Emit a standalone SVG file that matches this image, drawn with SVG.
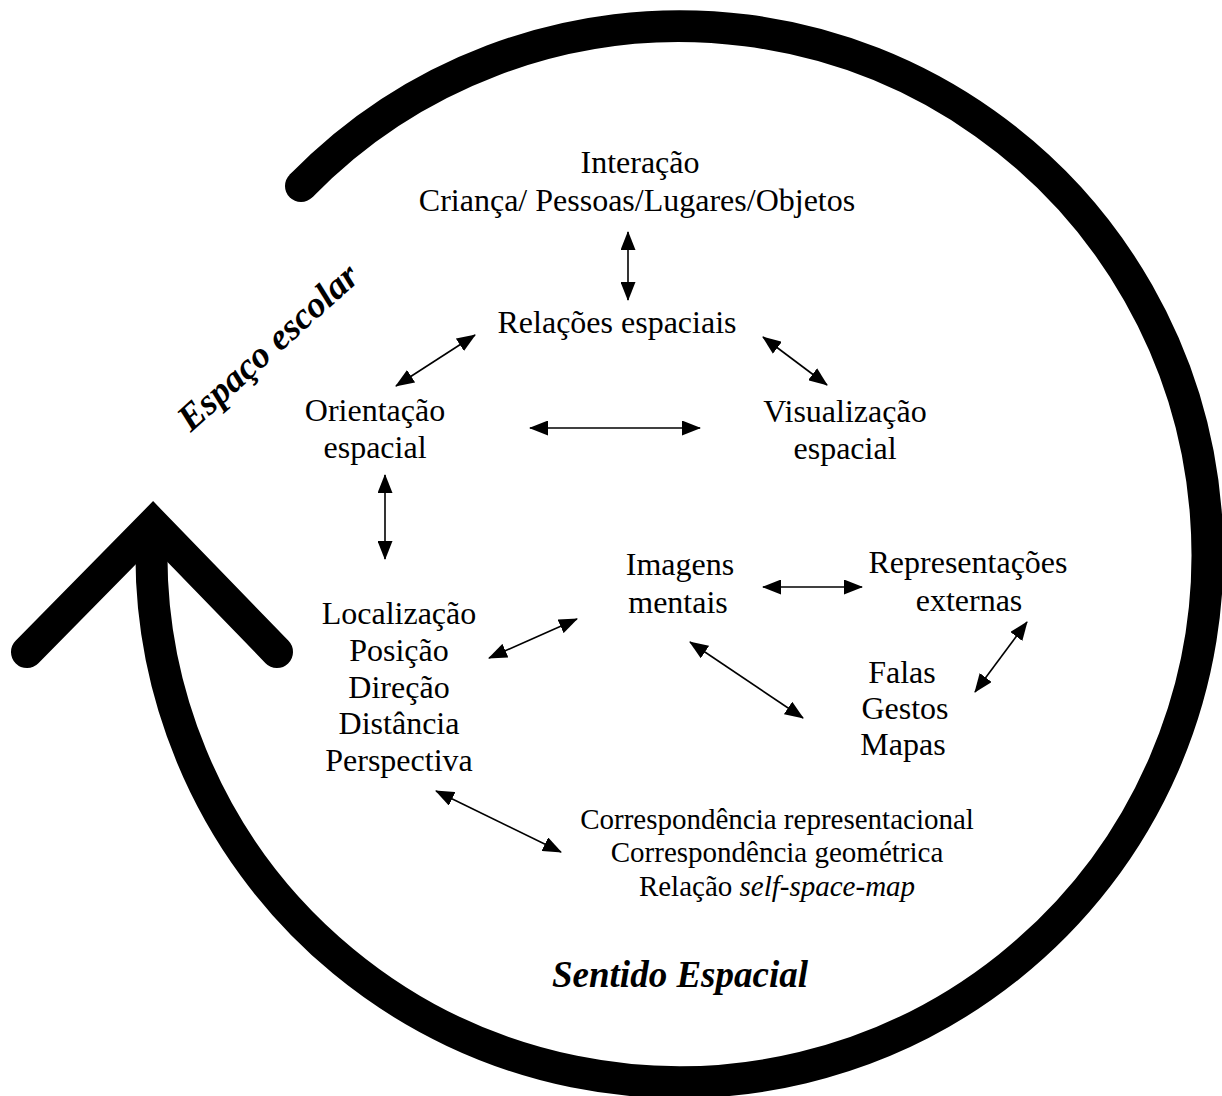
<svg xmlns="http://www.w3.org/2000/svg" width="1222" height="1096" viewBox="0 0 1222 1096">
  <defs>
    <style>
      .t { font-family: "Liberation Serif", "Times New Roman", serif; font-size: 32px; fill: #000; text-anchor: middle; }
      .s { font-size: 29px; }
      .title { font-family: "Liberation Serif", "Times New Roman", serif; font-size: 37px; font-weight: bold; font-style: italic; fill: #000; text-anchor: middle; }
      .link { stroke: #000; stroke-width: 1.6; fill: none; marker-start: url(#head); marker-end: url(#head); }
      .ring { stroke: #000; stroke-width: 32; fill: none; }
    </style>
    <marker id="head" viewBox="0 0 19 15" refX="18" refY="7.5" markerWidth="19" markerHeight="15" markerUnits="userSpaceOnUse" orient="auto-start-reverse">
      <path d="M0,0 L19,7.5 L0,15 z" fill="#000"/>
    </marker>
  </defs>

  <rect width="1222" height="1096" fill="#fff"/>

  <!-- circular cycle arrow: rounded tail, butt end hidden under the chevron head -->
  <g id="cycle">
    <circle cx="301" cy="186" r="16" fill="#000"/>
    <path class="ring" stroke-linecap="butt" d="M301,186 A528,528 0 1 1 152,530"/>
    <polyline class="ring" stroke-width="30" stroke-linecap="round" stroke-linejoin="miter" stroke-miterlimit="10" points="27,652 153,524 277,652"/>
  </g>

  <g id="label-espaco-escolar">
    <text class="title" transform="translate(276,356) rotate(-42)">Espaço escolar</text>
  </g>
  <g id="label-sentido-espacial">
    <text class="title" x="680" y="987">Sentido Espacial</text>
  </g>

  <!-- nodes -->
  <g id="node-interacao">
    <text class="t" x="640" y="173">Interação</text>
    <text class="t" x="637" y="211">Criança/ Pessoas/Lugares/Objetos</text>
  </g>
  <g id="node-relacoes">
    <text class="t" x="617" y="333">Relações espaciais</text>
  </g>
  <g id="node-orientacao">
    <text class="t" x="375" y="421">Orientação</text>
    <text class="t" x="375" y="458">espacial</text>
  </g>
  <g id="node-visualizacao">
    <text class="t" x="845" y="422">Visualização</text>
    <text class="t" x="845" y="459">espacial</text>
  </g>
  <g id="node-localizacao">
    <text class="t" x="399" y="624">Localização</text>
    <text class="t" x="399" y="661">Posição</text>
    <text class="t" x="399" y="698">Direção</text>
    <text class="t" x="399" y="734">Distância</text>
    <text class="t" x="399" y="771">Perspectiva</text>
  </g>
  <g id="node-imagens">
    <text class="t" x="680" y="575">Imagens</text>
    <text class="t" x="678" y="613">mentais</text>
  </g>
  <g id="node-representacoes">
    <text class="t" x="968" y="573">Representações</text>
    <text class="t" x="969" y="611">externas</text>
  </g>
  <g id="node-falas">
    <text class="t" x="902" y="683">Falas</text>
    <text class="t" x="905" y="719">Gestos</text>
    <text class="t" x="903" y="755">Mapas</text>
  </g>
  <g id="node-correspondencia">
    <text class="t s" x="777" y="829">Correspondência representacional</text>
    <text class="t s" x="777" y="862">Correspondência geométrica</text>
    <text class="t s" x="777" y="896">Relação <tspan font-style="italic">self-space-map</tspan></text>
  </g>

  <!-- two-way connectors -->
  <g id="connectors">
    <line class="link" x1="628" y1="232" x2="628" y2="300"/>
    <line class="link" x1="475" y1="335" x2="396" y2="386"/>
    <line class="link" x1="763" y1="337" x2="827" y2="385"/>
    <line class="link" x1="530" y1="428" x2="700" y2="428"/>
    <line class="link" x1="385" y1="475" x2="385" y2="559"/>
    <line class="link" x1="489" y1="658" x2="577" y2="619"/>
    <line class="link" x1="763" y1="587" x2="862" y2="587"/>
    <line class="link" x1="1027" y1="622" x2="975" y2="692"/>
    <line class="link" x1="690" y1="642" x2="803" y2="718"/>
    <line class="link" x1="436" y1="791" x2="561" y2="852"/>
  </g>
</svg>
